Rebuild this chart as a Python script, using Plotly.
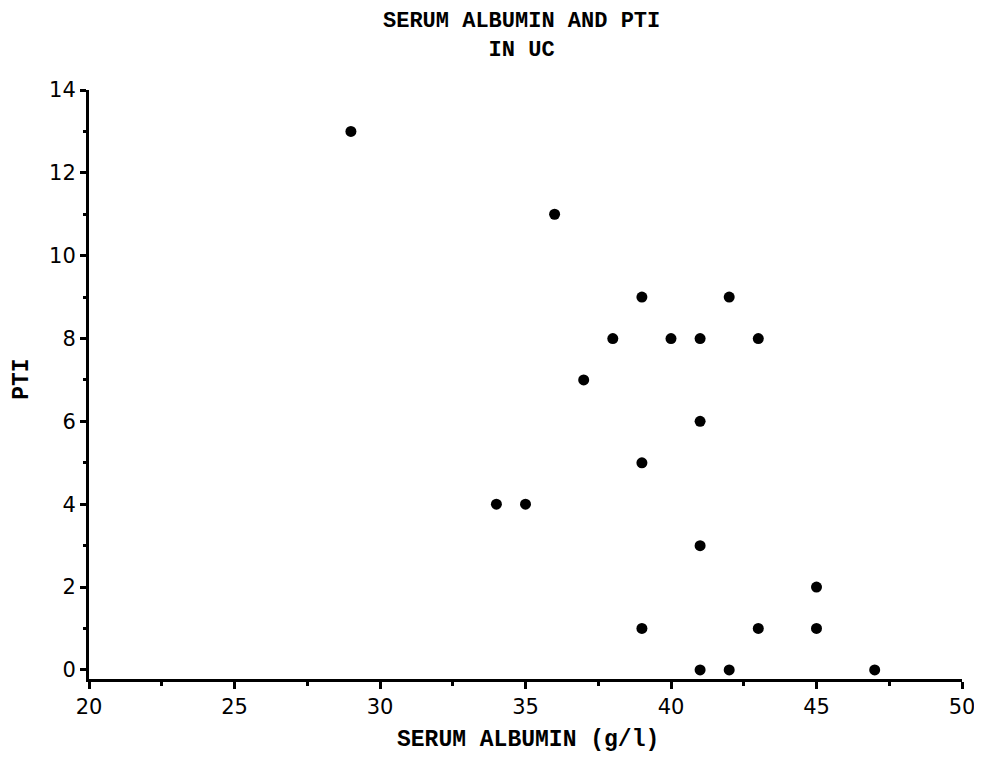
import plotly.graph_objects as go

albumin = [29, 36, 39, 42, 38, 40, 41, 43, 37, 41, 39, 34, 35, 41, 45, 39, 43, 45, 41, 42, 47]
pti =     [13, 11, 9, 9, 8, 8, 8, 8, 7, 6, 5, 4, 4, 3, 2, 1, 1, 1, 0, 0, 0]

x_ticks = [20, 25, 30, 35, 40, 45, 50]
y_ticks = [0, 2, 4, 6, 8, 10, 12, 14]

title_lines = ["SERUM ALBUMIN AND PTI", "IN UC"]
x_title = "SERUM ALBUMIN (g/l)"
y_title = "PTI"

fig = go.Figure(go.Scatter(
    x=albumin, y=pti, mode="markers",
    marker=dict(color="black", size=11),
    hoverinfo="x+y",
))

tickfont = dict(family="DejaVu Sans", size=21, color="black")
labfont = dict(family="Liberation Mono", size=23, color="black", weight="bold")
titlefont = dict(family="Liberation Mono", size=22, color="black", weight="bold")

fig.update_layout(
    width=982, height=758,
    margin=dict(l=81, r=28, t=82, b=87),
    paper_bgcolor="white", plot_bgcolor="white",
    showlegend=False,
    xaxis=dict(
        range=[20, 50], tickvals=x_ticks, ticktext=[str(v) for v in x_ticks],
        showgrid=False, zeroline=False,
        showline=True, linecolor="black", linewidth=3,
        ticks="outside", ticklen=7, tickwidth=3, tickcolor="black",
        minor=dict(dtick=2.5, tick0=20, ticks="outside", ticklen=4, tickwidth=3, tickcolor="black"),
        tickfont=tickfont,
    ),
    yaxis=dict(
        range=[-0.22, 14], tickvals=y_ticks, ticktext=[str(v) for v in y_ticks],
        showgrid=False, zeroline=False,
        showline=True, linecolor="black", linewidth=3,
        ticks="outside", ticklen=6, tickwidth=3, tickcolor="black",
        minor=dict(dtick=1, tick0=0, ticks="outside", ticklen=3, tickwidth=3, tickcolor="black"),
        tickfont=tickfont,
    ),
    annotations=[
        dict(text="<br>".join(title_lines), x=0.495, y=1, xref="paper", yref="paper",
             xanchor="center", yanchor="middle", yshift=54, showarrow=False, font=titlefont),
        dict(text=x_title, x=0.503, y=0, xref="paper", yref="paper",
             xanchor="center", yanchor="middle", yshift=-61, showarrow=False, font=labfont),
        dict(text=y_title, x=0, y=0.508, xref="paper", yref="paper",
             xanchor="center", yanchor="middle", xshift=-67, textangle=-90,
             showarrow=False, font=labfont),
    ],
)

fig.write_html("out.html")
